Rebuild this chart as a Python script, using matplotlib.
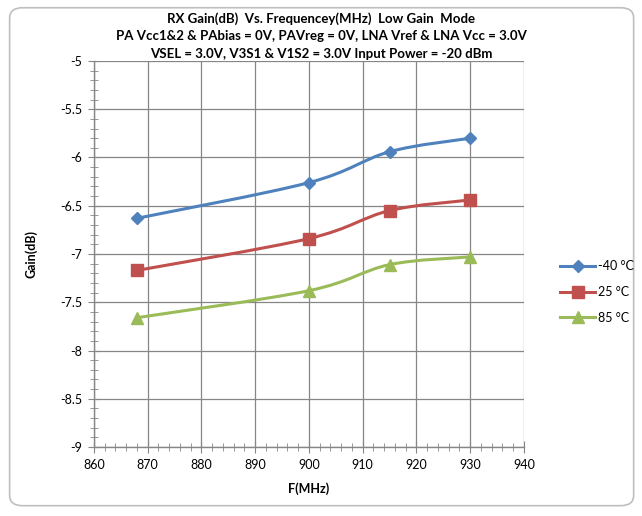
import matplotlib
matplotlib.use("Agg")
import matplotlib.pyplot as plt
from matplotlib.path import Path
from matplotlib.patches import PathPatch, FancyBboxPatch
from matplotlib.lines import Line2D
from matplotlib.ticker import MultipleLocator

plt.rcParams['font.family'] = ['Lato', 'DejaVu Sans']

freq = [868, 900, 915, 930]
gain_m40 = [-6.63, -6.26, -5.94, -5.80]
gain_25 = [-7.17, -6.84, -6.55, -6.44]
gain_85 = [-7.66, -7.38, -7.11, -7.03]
labels = ['-40 °C', '25 °C', '85 °C']
colors = ['#4F81BD', '#C0504D', '#9BBB59']
markers = ['D', 's', '^']
msizes = [6, 8, 8]

title = ("RX Gain(dB)  Vs. Frequencey(MHz)  Low Gain  Mode\n"
         "PA Vcc1&2 & PAbias = 0V, PAVreg = 0V, LNA Vref & LNA Vcc = 3.0V\n"
         "VSEL = 3.0V, V3S1 & V1S2 = 3.0V Input Power = -20 dBm")

fig = plt.figure(figsize=(6.42, 5.16), dpi=100)
# outer rounded frame
frame = FancyBboxPatch((0.015, 0.02), 0.972, 0.965, boxstyle="round,pad=0,rounding_size=0.02",
                       transform=fig.transFigure, facecolor='white', edgecolor='#BFBFBF', lw=1.2,
                       zorder=-10)
fig.patches.append(frame)

ax = fig.add_axes([0.1464, 0.1337, 0.6698, 0.7481])
ax.patch.set_alpha(0)
ax.set_xlim(860, 940)
ax.set_ylim(-9, -5)
ax.xaxis.set_major_locator(MultipleLocator(10))
ax.xaxis.set_minor_locator(MultipleLocator(2))
ax.yaxis.set_major_locator(MultipleLocator(0.5))
ax.yaxis.set_minor_locator(MultipleLocator(0.1))
ax.yaxis.set_major_formatter(plt.FuncFormatter(lambda v, p: ('%g' % v)))
ax.grid(True, which='major', color='#868686', lw=0.9)
for s in ['top', 'right']:
    ax.spines[s].set_visible(False)
for s in ['left', 'bottom']:
    ax.spines[s].set_color('#868686')
    ax.spines[s].set_linewidth(1.0)
ax.tick_params(which='major', direction='inout', length=9, color='#868686', labelsize=9, pad=4)
ax.tick_params(which='minor', direction='inout', length=6, color='#868686')
ax.set_axisbelow(True)


def smooth_path(xs, ys):
    pts = list(zip(xs, ys))
    verts = [pts[0]]
    codes = [Path.MOVETO]
    n = len(pts)
    for i in range(n - 1):
        p0 = pts[i - 1] if i > 0 else pts[i]
        p1 = pts[i]
        p2 = pts[i + 1]
        p3 = pts[i + 2] if i + 2 < n else pts[i + 1]
        c1 = (p1[0] + (p2[0] - p0[0]) / 6, p1[1] + (p2[1] - p0[1]) / 6)
        c2 = (p2[0] - (p3[0] - p1[0]) / 6, p2[1] - (p3[1] - p1[1]) / 6)
        verts += [c1, c2, p2]
        codes += [Path.CURVE4] * 3
    return Path(verts, codes)


handles = []
for ys, lab, c, m, ms in zip([gain_m40, gain_25, gain_85], labels, colors, markers, msizes):
    patch = PathPatch(smooth_path(freq, ys), facecolor='none', edgecolor=c, lw=2.2,
                      transform=ax.transData, zorder=3)
    ax.add_patch(patch)
    ax.plot(freq, ys, linestyle='none', marker=m, color=c, markersize=ms, zorder=4)
    handles.append(Line2D([], [], color=c, lw=2.2, marker=m, markersize=ms, label=lab))

ax.set_xlabel('F(MHz)', fontsize=9, fontweight='bold', labelpad=8)
ax.set_ylabel('Gain(dB)', fontsize=9, fontweight='bold', labelpad=16)
fig.text(0.5, 0.93, title, ha='center', va='center', fontsize=9.5, fontweight='bold',
         linespacing=1.55)

fig.legend(handles=handles, loc='center left', bbox_to_anchor=(0.855, 0.434), frameon=False,
           fontsize=9, handlelength=2.8, labelspacing=1.1, handletextpad=0.2)

fig.savefig('out.png', dpi=100)
